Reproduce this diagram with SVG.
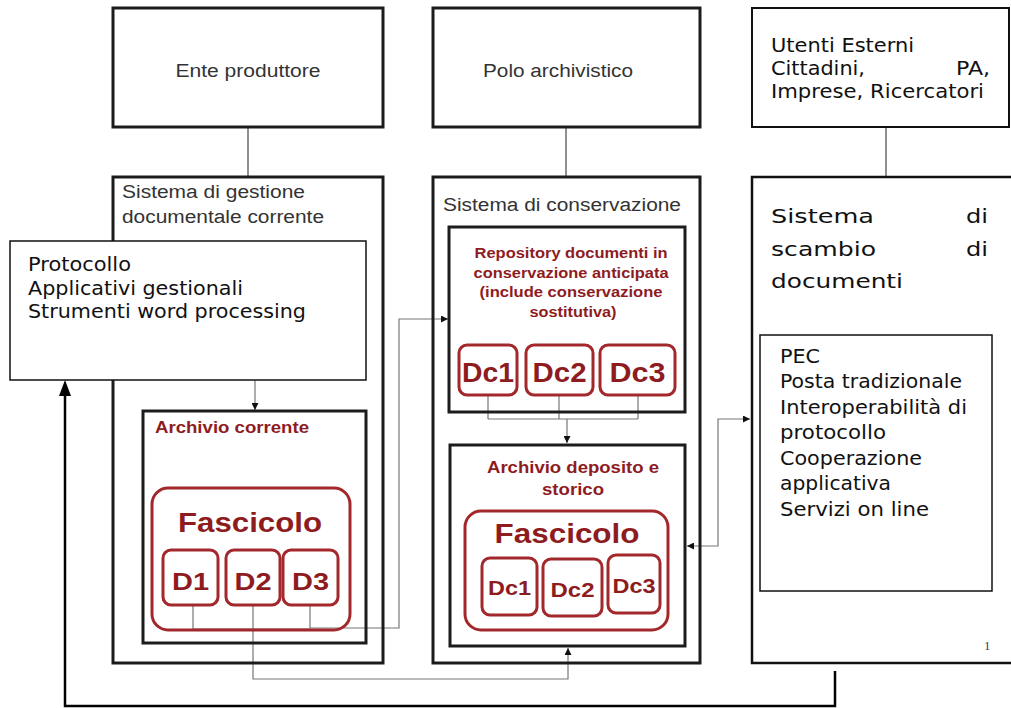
<svg xmlns="http://www.w3.org/2000/svg" width="1011" height="708" viewBox="0 0 1011 708">
<defs>
<style>
.box{fill:none;stroke:#1c1c1c;stroke-width:3}
.wbox{fill:#fff;stroke:#111;stroke-width:1.5}
.red{fill:none;stroke:#a3282b;stroke-width:3}
.gt{font-family:"Liberation Sans",Arial,sans-serif;font-size:18px;fill:#333}
.rt{font-family:"Liberation Sans",Arial,sans-serif;font-weight:bold;fill:#8e1c1f}
.bt{font-family:"DejaVu Sans",Verdana,sans-serif;font-size:19px;fill:#111}
.c1{fill:none;stroke:#6a6a6a;stroke-width:1.5}
.c2{fill:none;stroke:#777;stroke-width:1.2}
</style>
<marker id="ah" viewBox="0 0 10 10" refX="10" refY="5" markerWidth="8" markerHeight="7" markerUnits="userSpaceOnUse" orient="auto-start-reverse"><path d="M0,0 L10,5 L0,10 z" fill="#111"/></marker>
</defs>
<rect x="0" y="0" width="1011" height="708" fill="#fff"/>

<g id="connectors">
<line class="c1" x1="248" y1="127" x2="248" y2="177"/>
<line class="c1" x1="566" y1="127" x2="566" y2="177"/>
<line class="c1" x1="886" y1="127" x2="886" y2="177"/>
<path class="c2" d="M255,380 V410" marker-end="url(#ah)"/>
<path class="c2" d="M193,605 V629 M310,605 V628 M193,629 H310"/>
<path class="c2" d="M310,628 H399 V319 H448" marker-end="url(#ah)"/>
<path class="c2" d="M253,605 V679 H568 V648" marker-end="url(#ah)"/>
<path class="c2" d="M488,395 V419 M559,395 V419 M638,395 V419 M488,419 H638"/>
<path class="c2" d="M567,419 V443" marker-end="url(#ah)"/>
<path class="c2" d="M687,546 H718 V419 H750" marker-start="url(#ah)" marker-end="url(#ah)"/>
<path d="M835,671 V706 H65 V394" fill="none" stroke="#000" stroke-width="2.5"/>
<polygon points="65,380 59,396 71,396" fill="#000"/>
</g>

<g id="ente">
<rect class="box" x="113" y="8" width="270" height="119"/>
<text class="gt" x="248" y="77" text-anchor="middle" textLength="145" lengthAdjust="spacingAndGlyphs">Ente produttore</text>
</g>
<g id="polo">
<rect class="box" x="433" y="8" width="267" height="119"/>
<text class="gt" x="558" y="77" text-anchor="middle" textLength="150" lengthAdjust="spacingAndGlyphs">Polo archivistico</text>
</g>
<g id="utenti">
<rect x="752" y="8" width="257" height="119" fill="#fff" stroke="#111" stroke-width="2"/>
<text class="bt" x="771" y="52" textLength="143" lengthAdjust="spacingAndGlyphs">Utenti Esterni</text>
<text class="bt" x="771" y="75" textLength="94" lengthAdjust="spacingAndGlyphs">Cittadini,</text>
<text class="bt" x="990" y="75" text-anchor="end" textLength="34" lengthAdjust="spacingAndGlyphs">PA,</text>
<text class="bt" x="771" y="98" textLength="213" lengthAdjust="spacingAndGlyphs">Imprese, Ricercatori</text>
</g>

<g id="sistema-gestione">
<rect class="box" x="113" y="177" width="270" height="486"/>
<text class="gt" x="122" y="198" textLength="183" lengthAdjust="spacingAndGlyphs">Sistema di gestione</text>
<text class="gt" x="122" y="223" textLength="202" lengthAdjust="spacingAndGlyphs">documentale corrente</text>
</g>
<g id="archivio-corrente">
<rect class="box" x="143" y="411" width="223" height="232"/>
<text class="rt" x="155" y="433" font-size="16" textLength="154" lengthAdjust="spacingAndGlyphs">Archivio corrente</text>
</g>
<g id="fascicolo-corrente">
<rect class="red" x="152" y="488" width="198" height="142" rx="16"/>
<text class="rt" x="250" y="532" font-size="27" text-anchor="middle" textLength="144" lengthAdjust="spacingAndGlyphs">Fascicolo</text>
</g>
<g id="d1">
<rect class="red" x="163" y="550" width="55" height="55" rx="8"/>
<text class="rt" x="190.5" y="590" font-size="24" text-anchor="middle" textLength="37" lengthAdjust="spacingAndGlyphs">D1</text>
</g>
<g id="d2">
<rect class="red" x="226" y="550" width="54" height="55" rx="8"/>
<text class="rt" x="253" y="590" font-size="24" text-anchor="middle" textLength="37" lengthAdjust="spacingAndGlyphs">D2</text>
</g>
<g id="d3">
<rect class="red" x="283" y="550" width="55" height="55" rx="8"/>
<text class="rt" x="310.5" y="590" font-size="24" text-anchor="middle" textLength="37" lengthAdjust="spacingAndGlyphs">D3</text>
</g>
<g id="protocollo">
<rect class="wbox" x="10" y="241" width="356" height="139"/>
<text class="bt" x="28" y="271" textLength="103" lengthAdjust="spacingAndGlyphs">Protocollo</text>
<text class="bt" x="28" y="295" textLength="215" lengthAdjust="spacingAndGlyphs">Applicativi gestionali</text>
<text class="bt" x="28" y="318" textLength="278" lengthAdjust="spacingAndGlyphs">Strumenti word processing</text>
</g>

<g id="sistema-conservazione">
<rect class="box" x="433" y="177" width="267" height="486"/>
<text class="gt" x="443" y="211" textLength="238" lengthAdjust="spacingAndGlyphs">Sistema di conservazione</text>
</g>
<g id="repository">
<rect class="box" x="449" y="227" width="236" height="185"/>
<text class="rt" font-size="14" text-anchor="middle">
<tspan x="573" y="258" textLength="193" lengthAdjust="spacingAndGlyphs">Repository documenti in</tspan>
<tspan x="573" y="278" textLength="195" lengthAdjust="spacingAndGlyphs">conservazione anticipata</tspan>
<tspan x="573" y="297" textLength="183" lengthAdjust="spacingAndGlyphs">(include conservazione</tspan>
<tspan x="573" y="317" textLength="87" lengthAdjust="spacingAndGlyphs">sostitutiva)</tspan>
</text>
</g>
<g id="dc1-rep">
<rect class="red" x="459" y="345" width="58" height="50" rx="8"/>
<text class="rt" x="488" y="382" font-size="27" text-anchor="middle" textLength="52" lengthAdjust="spacingAndGlyphs">Dc1</text>
</g>
<g id="dc2-rep">
<rect class="red" x="526" y="345" width="67" height="50" rx="8"/>
<text class="rt" x="559.5" y="382" font-size="27" text-anchor="middle" textLength="54" lengthAdjust="spacingAndGlyphs">Dc2</text>
</g>
<g id="dc3-rep">
<rect class="red" x="600" y="345" width="75" height="50" rx="8"/>
<text class="rt" x="637.5" y="382" font-size="27" text-anchor="middle" textLength="56" lengthAdjust="spacingAndGlyphs">Dc3</text>
</g>
<g id="archivio-deposito">
<rect class="box" x="450" y="445" width="235" height="201"/>
<text class="rt" x="573" y="473" font-size="16" text-anchor="middle" textLength="172" lengthAdjust="spacingAndGlyphs">Archivio deposito e</text>
<text class="rt" x="573" y="495" font-size="16" text-anchor="middle" textLength="62" lengthAdjust="spacingAndGlyphs">storico</text>
</g>
<g id="fascicolo-deposito">
<rect class="red" x="465" y="511" width="203" height="119" rx="16"/>
<text class="rt" x="567" y="543" font-size="27" text-anchor="middle" textLength="145" lengthAdjust="spacingAndGlyphs">Fascicolo</text>
</g>
<g id="dc1-dep">
<rect class="red" x="482" y="558" width="55" height="57" rx="8"/>
<text class="rt" x="509.5" y="595" font-size="21" text-anchor="middle" textLength="43" lengthAdjust="spacingAndGlyphs">Dc1</text>
</g>
<g id="dc2-dep">
<rect class="red" x="543" y="559" width="59" height="57" rx="8"/>
<text class="rt" x="572.5" y="597" font-size="21" text-anchor="middle" textLength="44" lengthAdjust="spacingAndGlyphs">Dc2</text>
</g>
<g id="dc3-dep">
<rect class="red" x="608" y="555" width="52" height="58" rx="8"/>
<text class="rt" x="634" y="593" font-size="21" text-anchor="middle" textLength="43" lengthAdjust="spacingAndGlyphs">Dc3</text>
</g>

<g id="sistema-scambio">
<rect x="752" y="177" width="280" height="486" fill="none" stroke="#111" stroke-width="2.5"/>
<text class="bt" font-size="23" x="771" y="223" textLength="103" lengthAdjust="spacingAndGlyphs">Sistema</text>
<text class="bt" font-size="23" x="988" y="223" text-anchor="end" textLength="22" lengthAdjust="spacingAndGlyphs">di</text>
<text class="bt" font-size="23" x="771" y="256" textLength="105" lengthAdjust="spacingAndGlyphs">scambio</text>
<text class="bt" font-size="23" x="988" y="256" text-anchor="end" textLength="22" lengthAdjust="spacingAndGlyphs">di</text>
<text class="bt" font-size="23" x="771" y="288" textLength="132" lengthAdjust="spacingAndGlyphs">documenti</text>
<text x="984" y="650" font-family="Liberation Serif,serif" font-size="13" fill="#444">1</text>
</g>
<g id="pec">
<rect class="wbox" x="760" y="335" width="232" height="256"/>
<text class="bt" x="780" y="363" textLength="40" lengthAdjust="spacingAndGlyphs">PEC</text>
<text class="bt" x="780" y="388" textLength="182" lengthAdjust="spacingAndGlyphs">Posta tradizionale</text>
<text class="bt" x="780" y="414" textLength="187" lengthAdjust="spacingAndGlyphs">Interoperabilità di</text>
<text class="bt" x="780" y="439" textLength="106" lengthAdjust="spacingAndGlyphs">protocollo</text>
<text class="bt" x="780" y="465" textLength="142" lengthAdjust="spacingAndGlyphs">Cooperazione</text>
<text class="bt" x="780" y="490" textLength="111" lengthAdjust="spacingAndGlyphs">applicativa</text>
<text class="bt" x="780" y="516" textLength="149" lengthAdjust="spacingAndGlyphs">Servizi on line</text>
</g>
</svg>
